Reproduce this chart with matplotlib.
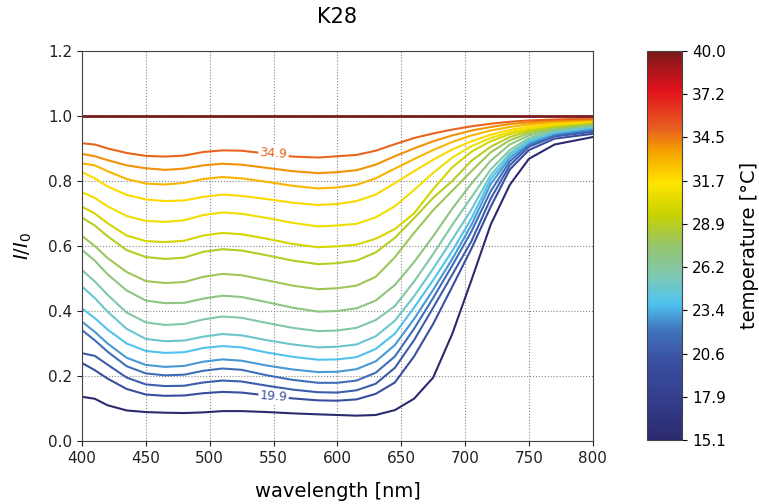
import numpy as np
import matplotlib
matplotlib.use("Agg")
import matplotlib.pyplot as plt
from matplotlib.colors import LinearSegmentedColormap, Normalize
from matplotlib.cm import ScalarMappable

# wavelength grid [nm]
wavelength = [400, 410, 420, 435, 450, 465, 480, 495, 510, 525, 545, 565, 585,
              600, 615, 630, 645, 660, 675, 690, 705, 720, 735, 750, 770, 800]

# temperatures [°C] of the curves (bottom to top)
temps = [15.1, 19.9, 20.9, 21.9, 22.9, 23.9, 24.9, 25.9, 26.9, 27.9, 28.9,
         29.9, 30.9, 31.9, 32.9, 33.9, 34.9]

i_15_1 = [0.136, 0.130, 0.110, 0.094, 0.089, 0.087, 0.086, 0.088, 0.092, 0.092, 0.089, 0.085, 0.082,
          0.080, 0.078, 0.080, 0.095, 0.130, 0.195, 0.330, 0.495, 0.665, 0.788, 0.868, 0.912, 0.935]
i_19_9 = [0.240, 0.218, 0.192, 0.160, 0.143, 0.139, 0.140, 0.147, 0.151, 0.149, 0.140, 0.131, 0.125,
          0.124, 0.128, 0.145, 0.180, 0.260, 0.360, 0.475, 0.592, 0.720, 0.835, 0.895, 0.930, 0.945]
i_20_9 = [0.270, 0.262, 0.235, 0.195, 0.174, 0.169, 0.170, 0.180, 0.186, 0.183, 0.170, 0.158, 0.150,
          0.149, 0.156, 0.176, 0.225, 0.310, 0.410, 0.512, 0.615, 0.745, 0.848, 0.905, 0.937, 0.951]
i_21_9 = [0.341, 0.310, 0.275, 0.230, 0.208, 0.202, 0.204, 0.216, 0.223, 0.219, 0.202, 0.188, 0.179,
          0.179, 0.186, 0.210, 0.260, 0.345, 0.440, 0.540, 0.645, 0.768, 0.860, 0.911, 0.941, 0.956]
i_22_9 = [0.367, 0.336, 0.300, 0.256, 0.234, 0.228, 0.231, 0.244, 0.251, 0.247, 0.232, 0.220, 0.212,
          0.213, 0.221, 0.245, 0.295, 0.375, 0.465, 0.560, 0.665, 0.790, 0.870, 0.916, 0.945, 0.960]
i_23_9 = [0.408, 0.378, 0.343, 0.300, 0.277, 0.271, 0.273, 0.286, 0.292, 0.288, 0.272, 0.259, 0.250,
          0.251, 0.258, 0.283, 0.330, 0.410, 0.495, 0.585, 0.685, 0.805, 0.877, 0.921, 0.948, 0.964]
i_24_9 = [0.475, 0.440, 0.398, 0.345, 0.314, 0.307, 0.309, 0.321, 0.329, 0.325, 0.310, 0.297, 0.288,
          0.290, 0.297, 0.322, 0.370, 0.445, 0.530, 0.620, 0.712, 0.818, 0.885, 0.926, 0.951, 0.967]
i_25_9 = [0.526, 0.491, 0.450, 0.395, 0.365, 0.357, 0.360, 0.374, 0.383, 0.379, 0.363, 0.348, 0.338,
          0.340, 0.348, 0.372, 0.415, 0.490, 0.575, 0.665, 0.750, 0.835, 0.895, 0.932, 0.955, 0.970]
i_26_9 = [0.588, 0.555, 0.513, 0.463, 0.432, 0.424, 0.425, 0.438, 0.447, 0.443, 0.427, 0.410, 0.398,
          0.400, 0.408, 0.432, 0.480, 0.550, 0.630, 0.715, 0.792, 0.862, 0.912, 0.940, 0.959, 0.973]
i_27_9 = [0.631, 0.600, 0.563, 0.520, 0.492, 0.486, 0.489, 0.505, 0.514, 0.510, 0.494, 0.478, 0.467,
          0.470, 0.478, 0.505, 0.565, 0.640, 0.710, 0.770, 0.830, 0.888, 0.925, 0.947, 0.963, 0.976]
i_28_9 = [0.687, 0.663, 0.630, 0.587, 0.566, 0.560, 0.564, 0.582, 0.590, 0.586, 0.571, 0.555, 0.544,
          0.547, 0.555, 0.580, 0.625, 0.685, 0.748, 0.800, 0.862, 0.905, 0.935, 0.953, 0.967, 0.979]
i_29_9 = [0.721, 0.700, 0.670, 0.632, 0.615, 0.612, 0.616, 0.632, 0.640, 0.636, 0.622, 0.606, 0.596,
          0.599, 0.604, 0.622, 0.652, 0.700, 0.775, 0.842, 0.890, 0.922, 0.944, 0.958, 0.970, 0.981]
i_30_9 = [0.765, 0.748, 0.722, 0.692, 0.677, 0.674, 0.679, 0.695, 0.703, 0.699, 0.686, 0.671, 0.660,
          0.663, 0.668, 0.688, 0.722, 0.772, 0.825, 0.872, 0.907, 0.932, 0.950, 0.962, 0.973, 0.983]
i_31_9 = [0.827, 0.808, 0.783, 0.757, 0.743, 0.738, 0.740, 0.751, 0.758, 0.754, 0.744, 0.733, 0.726,
          0.729, 0.738, 0.758, 0.793, 0.830, 0.865, 0.897, 0.922, 0.942, 0.957, 0.967, 0.976, 0.985]
i_32_9 = [0.854, 0.848, 0.830, 0.806, 0.792, 0.789, 0.794, 0.806, 0.812, 0.808, 0.797, 0.785, 0.777,
          0.780, 0.788, 0.808, 0.838, 0.867, 0.895, 0.920, 0.940, 0.955, 0.966, 0.974, 0.981, 0.987]
i_33_9 = [0.883, 0.876, 0.864, 0.848, 0.839, 0.834, 0.838, 0.848, 0.853, 0.850, 0.840, 0.830, 0.824,
          0.827, 0.833, 0.850, 0.876, 0.900, 0.922, 0.940, 0.955, 0.966, 0.975, 0.980, 0.985, 0.989]
i_34_9 = [0.916, 0.912, 0.900, 0.886, 0.877, 0.875, 0.878, 0.889, 0.894, 0.893, 0.884, 0.875, 0.872,
          0.876, 0.880, 0.893, 0.913, 0.932, 0.946, 0.958, 0.968, 0.976, 0.982, 0.986, 0.989, 0.992]

curves = [i_15_1, i_19_9, i_20_9, i_21_9, i_22_9, i_23_9, i_24_9, i_25_9, i_26_9,
          i_27_9, i_28_9, i_29_9, i_30_9, i_31_9, i_32_9, i_33_9, i_34_9]

# reference (highest temperature)
ref_temp = 40.0
ref_wl = [400, 800]
ref_val = [1.0, 1.0]

t_min, t_max = 15.1, 40.0

cmap = LinearSegmentedColormap.from_list("temp", [
    (0.00, "#2b2a6e"), (0.10, "#333d8c"), (0.20, "#3a4fa0"), (0.28, "#4072bb"),
    (0.35, "#4ec3f0"), (0.42, "#7ec8b4"), (0.50, "#95c46a"), (0.58, "#c8d200"),
    (0.66, "#ffe500"), (0.745, "#f5a000"), (0.80, "#e86020"), (0.90, "#e3101c"),
    (1.00, "#7a1a1a")])
norm = Normalize(t_min, t_max)

fig = plt.figure(figsize=(7.59, 5.04), dpi=100)
ax = fig.add_axes([0.108, 0.125, 0.673, 0.774])
cax = fig.add_axes([0.853, 0.127, 0.046, 0.772])

for t, vals in zip(temps, curves):
    ax.plot(wavelength, vals, color=cmap(norm(t)), lw=1.5)
ax.plot(ref_wl, ref_val, color=cmap(norm(ref_temp)), lw=2.0)

# inline labels
lab_style = dict(fontsize=9, ha="center", va="center", rotation=-4,
                 bbox=dict(facecolor="white", edgecolor="none", pad=1.0))
ax.text(550, 0.884, "34.9", color=cmap(norm(34.9)), **lab_style)
ax.text(550, 0.136, "19.9", color=cmap(norm(19.9)), **lab_style)

ax.set_xlim(400, 800)
ax.set_ylim(0, 1.2)
ax.set_xticks(np.arange(400, 801, 50))
ax.set_yticks(np.arange(0, 1.21, 0.2))
ax.yaxis.set_major_formatter(plt.FormatStrFormatter("%.1f"))
ax.tick_params(labelsize=11, colors="#222222")
ax.grid(True, linestyle=":", color="#888888", linewidth=0.8)
for sp in ax.spines.values():
    sp.set_color("#444444")

ax.set_title("K28", fontsize=15, pad=20)
ax.set_xlabel("wavelength [nm]", fontsize=14, labelpad=12)
ax.set_ylabel("$I/I_0$", fontsize=14, labelpad=10)

sm = ScalarMappable(norm=norm, cmap=cmap)
cb = fig.colorbar(sm, cax=cax, ticks=np.linspace(t_min, t_max, 10), format="%.1f")
cb.ax.tick_params(labelsize=11)
cb.outline.set_edgecolor("#444444")
cb.set_label("temperature [°C]", fontsize=14, labelpad=10)

fig.savefig("out.png", dpi=100)
plt.close(fig)
